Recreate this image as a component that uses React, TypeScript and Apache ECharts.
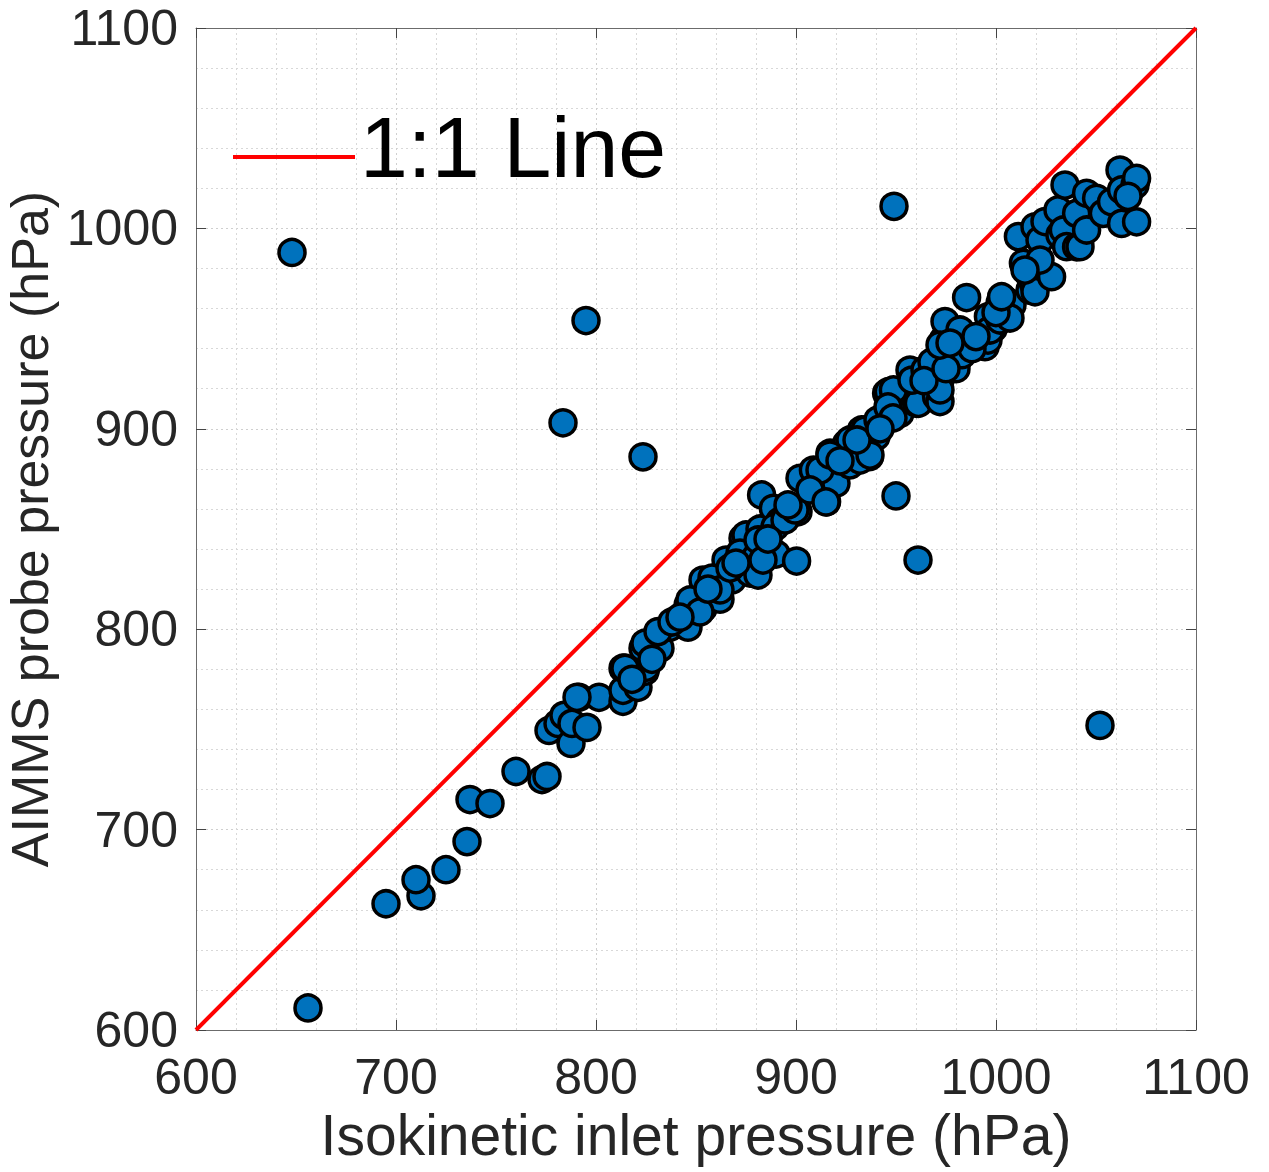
import React, { useEffect, useRef } from "react";
import * as echarts from "echarts";

// [isokinetic inlet pressure, AIMMS probe pressure] in hPa
const outlierPoints: number[][] = [
  [648, 988], [656, 611], [795, 954], [783.5, 903], [823.5, 886],
  [949, 1011], [950, 866.5], [961, 834.5], [1052, 752],
];

const lowPoints: number[][] = [
  [695, 663], [712.5, 667], [710, 675], [725, 680], [735.5, 694],
  [737, 715], [747, 713], [760, 729], [773, 725], [775.5, 726.5],
  [776.5, 749.5], [781, 753], [784, 757], [787.5, 743], [788, 753],
  [791.5, 766], [795.5, 751], [801.5, 766], [790.5, 766],
  [813.5, 764], [813.5, 769.5], [813.5, 780.5], [821, 771], [824.5, 779],
  [825, 781], [832, 790.5], [823.5, 790.5], [824.5, 793], [814.5, 780.5],
  [818, 775], [828, 785],
];

const midPoints: number[][] = [
  [837, 801], [846, 801], [846, 812], [849, 810], [853.5, 810.5],
  [853.5, 824.5], [858, 818], [862, 815], [865, 834.5], [868, 824.6],
  [873.5, 845.4], [875, 847], [872, 838], [880, 836], [877, 828],
  [882, 850], [882.8, 867], [888.7, 860.3], [890, 837.5], [892, 853.8],
  [900.3, 834], [901, 858.6], [903.7, 874.5], [902, 875.3],
  [831, 798.8], [838, 803.6], [847, 814.6], [852, 808.6], [858, 825.5],
  [862, 819.6], [867, 830.5], [881, 844.5], [881, 827], [883.5, 834.5],
  [889.5, 851], [894.5, 854.5], [899.5, 859.5], [842, 806], [856, 820],
  [870, 833], [886, 845], [896, 862],
  [908.7, 879.4], [915.3, 863.6], [917, 887.8], [917, 876.9], [920, 872.8],
  [925.3, 892.7], [927, 882], [932.8, 899.4], [936.7, 886.1], [940, 896.1],
  [945.3, 917.7], [946.2, 918.5], [950.3, 907.7], [948.7, 919.4], [952, 907.7],
  [960.3, 912.7], [958.7, 928.5], [961.2, 912.7], [967, 922.7], [970.3, 916],
  [972, 924.3], [972, 913.6], [972, 919.4], [957, 929.3],
  [927, 894.4], [934.5, 899.4], [941, 904.4], [946, 910.9], [932, 884.4],
  [937, 886.9], [912, 879.4], [917, 886.9], [907, 869.5], [915, 863.5],
  [930.5, 894.4], [948.5, 905.4], [958, 924.3], [964.5, 929.3], [968, 933.3],
  [922, 884], [942, 900],
];

const upperPoints: number[][] = [
  [973.7, 944.3], [974.5, 953.5], [976.2, 939.3], [978, 939.3], [980.3, 933.5],
  [985.3, 965.5], [985.3, 946], [991.2, 943.5], [994.5, 941], [996.2, 956],
  [998.7, 950.2], [1002, 962.6], [996, 944.3], [980, 930], [983, 937],
  [988, 940], [964, 924], [975, 930], [972, 941.8], [982, 949.3],
  [977, 942.8], [997, 949.3], [1002, 954.3], [1004.5, 964.3], [1008, 961.8],
  [1007, 955.3], [990, 946], [1000, 958],
  [1002.8, 965.9], [1011.2, 995.9], [1013.7, 982.6], [1016.2, 977.6],
  [1017, 969.2], [1018.7, 972.6], [1019.5, 968.4], [1019.5, 1000.8],
  [1022, 994.2], [1024.5, 1003.4], [1027.8, 975.9], [1022, 984.2],
  [1014.5, 979.2], [1032, 996.7], [1044.5, 1001.7], [1052, 1008.2], [1057, 1011.7],
  [1031, 1009.2], [1033.7, 999.2], [1034.5, 1021.6], [1035.3, 990.9],
  [1040.3, 1007.5], [1040.3, 990.8], [1042, 990.9], [1045.3, 1017.5],
  [1045.3, 999.2], [1050.3, 1015], [1053.7, 1007.5], [1057.8, 1013.3],
  [1062, 1029.1], [1062.8, 1019.2], [1062.8, 1002.5], [1069.5, 1021.6],
  [1070.3, 1025], [1070.3, 1003.3], [1066, 1016],
];

const oneToOneLine: number[][] = [[600, 600], [1100, 1100]];

const axisMin = 600;
const axisMax = 1100;
const axisStep = 100;

const xTitle = "Isokinetic inlet pressure (hPa)";
const yTitle = "AIMMS probe pressure (hPa)";
const lineName = "1:1 Line";

// legend icon: a red bar sitting in the lower part of its box (tiny anchor dot at the top)
const legendIcon = "path://M0,0L0.2,0L0.2,0.2L0,0.2Z M0,20L122,20L122,24L0,24Z";

export default function App() {
  const ref = useRef<HTMLDivElement>(null);

  useEffect(() => {
    document.body.style.margin = "0";
    if (!ref.current) return;
    const chart = echarts.init(ref.current, undefined, { renderer: "svg" });
    const font = "'Liberation Sans', Arial, Helvetica, sans-serif";
    const gridDash = [2, 3];
    const baseAxis = {
      type: "value",
      min: axisMin,
      max: axisMax,
      interval: axisStep,
    };
    const mainAxisCommon = {
      ...baseAxis,
      axisLine: { show: true, onZero: false, lineStyle: { color: "#6b6b6b", width: 1 } },
      axisTick: { show: true, inside: true, length: 10, lineStyle: { color: "#444", width: 1 } },
      splitLine: { show: true, lineStyle: { type: gridDash, color: "#cfcfcf", width: 1 } },
      minorTick: { show: false, splitNumber: 5 },
      minorSplitLine: { show: true, lineStyle: { type: gridDash, color: "#d8d8d8", width: 1 } },
    };
    const secondaryAxisCommon = {
      ...baseAxis,
      axisLine: { show: true, onZero: false, lineStyle: { color: "#6b6b6b", width: 1 } },
      axisTick: { show: true, inside: true, length: 10, lineStyle: { color: "#444", width: 1 } },
      axisLabel: { show: false },
      splitLine: { show: false },
    };
    const allPoints = [...outlierPoints, ...lowPoints, ...midPoints, ...upperPoints];
    const plain = (v: number) => String(v);

    chart.setOption({
      animation: false,
      backgroundColor: "#ffffff",
      textStyle: { fontFamily: font },
      grid: {
        left: 196,
        top: 28,
        width: 1000,
        height: 1002,
        containLabel: false,
        outerBoundsMode: "none",
      },
      legend: {
        data: [{ name: lineName, icon: legendIcon }],
        left: 233,
        top: 102,
        padding: 0,
        itemWidth: 122,
        itemHeight: 24,
        textStyle: {
          fontSize: 86,
          color: "#000",
          lineHeight: 90,
          fontFamily: font,
        },
      },
      xAxis: [
        {
          ...mainAxisCommon,
          position: "bottom",
          axisLabel: { fontSize: 50, color: "#262626", margin: 22, fontFamily: font, formatter: plain },
          name: xTitle,
          nameLocation: "middle",
          nameGap: 76,
          nameTextStyle: { fontSize: 57, color: "#262626", fontFamily: font },
        },
        { ...secondaryAxisCommon, position: "top" },
      ],
      yAxis: [
        {
          ...mainAxisCommon,
          position: "left",
          axisLabel: { fontSize: 50, color: "#262626", margin: 18, fontFamily: font, formatter: plain },
          name: yTitle,
          nameLocation: "middle",
          nameGap: 133,
          nameTextStyle: { fontSize: 52, color: "#262626", fontFamily: font },
        },
        { ...secondaryAxisCommon, position: "right" },
      ],
      series: [
        {
          type: "scatter",
          name: "data",
          data: allPoints,
          symbol: "circle",
          symbolSize: 26,
          itemStyle: { color: "#0072BD", borderColor: "#000", borderWidth: 3.5, opacity: 1 },
          emphasis: { disabled: true },
        },
        {
          type: "line",
          name: lineName,
          data: oneToOneLine,
          symbol: "none",
          showSymbol: false,
          lineStyle: { color: "#ff0000", width: 4 },
          itemStyle: { color: "#ff0000" },
          emphasis: { disabled: true },
        },
      ],
    });
    return () => chart.dispose();
  }, []);

  return (
    <div
      ref={ref}
      style={{ position: "fixed", left: 0, top: 0, width: 1269, height: 1172, background: "#fff" }}
    />
  );
}
